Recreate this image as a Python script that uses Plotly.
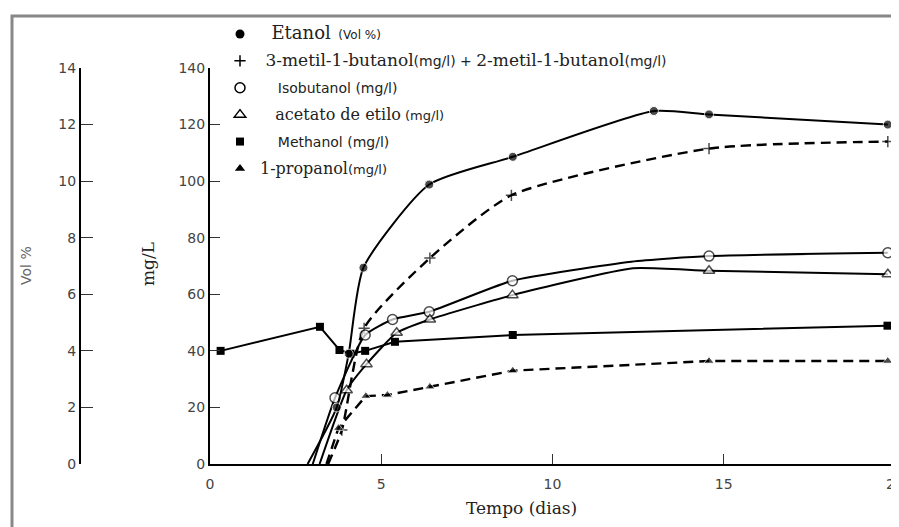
import plotly.graph_objects as go

# ── data ──────────────────────────────────────────────────────
etanol_x = [2.85, 3.7, 4.05, 4.48, 6.4, 8.84, 12.96, 14.57, 19.79]
etanol_vol = [0, 2.0, 3.9, 6.94, 9.88, 10.86, 12.48, 12.36, 12.0]

metilbut_x = [3.45, 3.85, 4.5, 6.42, 8.8, 14.57, 19.79]
metilbut_y = [0, 12, 48, 72.8, 95, 111.5, 114]

isobut_x = [3.0, 3.65, 4.53, 5.33, 6.4, 8.83, 12.3, 14.57, 19.79]
isobut_y = [0, 23.4, 45.6, 51.1, 53.8, 64.8, 71.5, 73.5, 74.7]

acetato_x = [3.2, 3.99, 4.57, 5.45, 6.42, 8.83, 12.35, 14.57, 19.79]
acetato_y = [0, 26.1, 35.3, 46.4, 51.1, 59.7, 69.2, 68.3, 67.1]

metanol_x = [0.31, 3.21, 3.78, 4.1, 4.53, 5.4, 8.84, 19.78]
metanol_y = [40.0, 48.5, 40.3, 39.0, 40.0, 43.2, 45.6, 48.9]

propanol_x = [3.4, 3.75, 4.55, 5.18, 6.42, 8.84, 14.57, 19.79]
propanol_y = [0, 12.7, 24.0, 24.4, 27.3, 33.0, 36.4, 36.4]

x_ticks = [0, 5, 10, 15, 20]
mg_ticks = [0, 20, 40, 60, 80, 100, 120, 140]
vol_ticks = [0, 2, 4, 6, 8, 10, 12, 14]

W, H = 899, 527
OFF = 8  # page body margin: the figure is drawn 8px in from the window corner
SERIF = "DejaVu Serif"
SANS = "DejaVu Sans"


def fx(p):
    """screen x pixel -> paper fraction"""
    return (p - OFF) / W


def fy(p):
    """screen y pixel -> paper fraction"""
    return 1 - (p - OFF) / H


# marker sizes: hide markers where a line starts on the x-axis / at bends
def sizes(ys, size, hidden=()):
    return [0 if (y == 0 or i in hidden) else size for i, y in enumerate(ys)]


fig = go.Figure()

line = dict(color="black", width=2)
dash = dict(color="black", width=2.4, dash="10px,6px")

fig.add_trace(go.Scatter(
    x=etanol_x, y=etanol_vol, yaxis="y2", mode="lines+markers",
    line=dict(color="black", width=2, shape="spline", smoothing=0.6),
    marker=dict(symbol="circle", color="black", size=sizes(etanol_vol, 9)),
    showlegend=False))
fig.add_trace(go.Scatter(
    x=metilbut_x, y=metilbut_y, mode="lines+markers",
    line=dict(color="black", width=2.4, dash="10px,6px", shape="spline", smoothing=0.6),
    marker=dict(symbol="cross-thin", size=sizes(metilbut_y, 8),
                line=dict(color="black", width=1.5)),
    showlegend=False))
fig.add_trace(go.Scatter(
    x=isobut_x, y=isobut_y, mode="lines+markers",
    line=dict(color="black", width=2, shape="spline", smoothing=0.5),
    marker=dict(symbol="circle", color="white", size=sizes(isobut_y, 10, (6,)),
                line=dict(color="black", width=1.5)),
    showlegend=False))
fig.add_trace(go.Scatter(
    x=acetato_x, y=acetato_y, mode="lines+markers",
    line=dict(color="black", width=2, shape="spline", smoothing=0.5),
    marker=dict(symbol="triangle-up", color="white", size=sizes(acetato_y, 10, (6,)),
                line=dict(color="black", width=1.5)),
    showlegend=False))
fig.add_trace(go.Scatter(
    x=metanol_x, y=metanol_y, mode="lines+markers", line=line,
    marker=dict(symbol="square", color="black", size=8),
    showlegend=False))
fig.add_trace(go.Scatter(
    x=propanol_x, y=propanol_y, mode="lines+markers", line=dash,
    marker=dict(symbol="triangle-up", color="black", size=sizes(propanol_y, 9)),
    showlegend=False))

# ── legend entries (markers only) ─────────────────────────────
def sp(text, family, size):
    return f"<span style='font-family:{family};font-size:{size}px'>{text}</span>"


NB = "&nbsp;"
legend_items = [
    (sp(NB * 2 + "Etanol", SERIF, 18) + sp(NB * 2 + "(Vol %)", SANS, 12),
     dict(symbol="circle", color="black", size=9)),
    (sp(NB + "3-metil-1-butanol", SERIF, 17) + sp("(mg/l) + ", SANS, 14)
     + sp("2-metil-1-butanol", SERIF, 17) + sp("(mg/l)", SANS, 14),
     dict(symbol="cross-thin", size=8, line=dict(color="black", width=1.5))),
    (sp(NB * 4 + "Isobutanol (mg/l)", SANS, 14),
     dict(symbol="circle", color="white", size=10, line=dict(color="black", width=1.5))),
    (sp(NB * 3 + "acetato de etilo", SERIF, 16) + sp(" (mg/l)", SANS, 13),
     dict(symbol="triangle-up", color="white", size=10, line=dict(color="black", width=1.5))),
    (sp(NB * 4 + "Methanol (mg/l)", SANS, 14),
     dict(symbol="square", color="black", size=8)),
    (sp("1-propanol", SERIF, 16) + sp("(mg/l)", SANS, 13),
     dict(symbol="triangle-up", color="black", size=9)),
]
for i, (name, mk) in enumerate(legend_items):
    fig.add_trace(go.Scatter(x=[None], y=[None], mode="markers", marker=mk,
                             name=name, legendgroup=f"g{i}", showlegend=True))

# ── annotations: axis titles ──────────────────────────────────
annotations = [
    dict(text="Vol %", x=fx(26), y=fy(266), textangle=-90,
         font=dict(family=SANS, size=14, color="#666")),
    dict(text="mg/L", x=fx(148), y=fy(264), textangle=-90,
         font=dict(family=SERIF, size=17, color="#222")),
    dict(text="Tempo (dias)", x=fx(521), y=fy(508),
         font=dict(family=SERIF, size=17, color="#222")),
]
for a in annotations:
    a.update(xref="paper", yref="paper", showarrow=False,
             xanchor="center", yanchor="middle")

tickfont = dict(family=SANS, size=14, color="#444")

fig.update_layout(
    width=W, height=H,
    margin=dict(l=0, r=0, t=0, b=0, autoexpand=False),
    paper_bgcolor="white", plot_bgcolor="white",
    font=dict(family=SANS, size=13, color="#333"),
    xaxis=dict(domain=[fx(210), fx(895)], range=[0, 20], tickvals=x_ticks,
               showline=True, linecolor="black", linewidth=2,
               ticks="inside", ticklen=10, tickcolor="#333", tickwidth=1,
               ticklabelstandoff=6,
               showgrid=False, zeroline=False, tickfont=tickfont),
    yaxis=dict(domain=[fy(464), fy(68)], range=[0, 140], tickvals=mg_ticks,
               showline=True, linecolor="black", linewidth=2,
               ticks="inside", ticklen=10, tickcolor="#333", tickwidth=1,
               showgrid=False, zeroline=False, tickfont=tickfont),
    yaxis2=dict(range=[0, 14], tickvals=vol_ticks, overlaying="y",
                anchor="free", position=fx(80), side="left",
                showline=True, linecolor="black", linewidth=2,
                ticks="inside", ticklen=12, tickcolor="#333", tickwidth=1,
                showgrid=False, zeroline=False, tickfont=tickfont),
    legend=dict(x=fx(220), y=fy(19), xanchor="left", yanchor="top",
                bgcolor="rgba(255,255,255,0)", tracegroupgap=7,
                itemsizing="trace", font=dict(size=13, color="#222")),
    annotations=annotations,
    shapes=[dict(type="rect", xref="paper", yref="paper",
                 x0=fx(12), x1=1.05, y0=-0.1, y1=fy(16),
                 line=dict(color="#888", width=3))],
)

fig.write_html("out.html")
